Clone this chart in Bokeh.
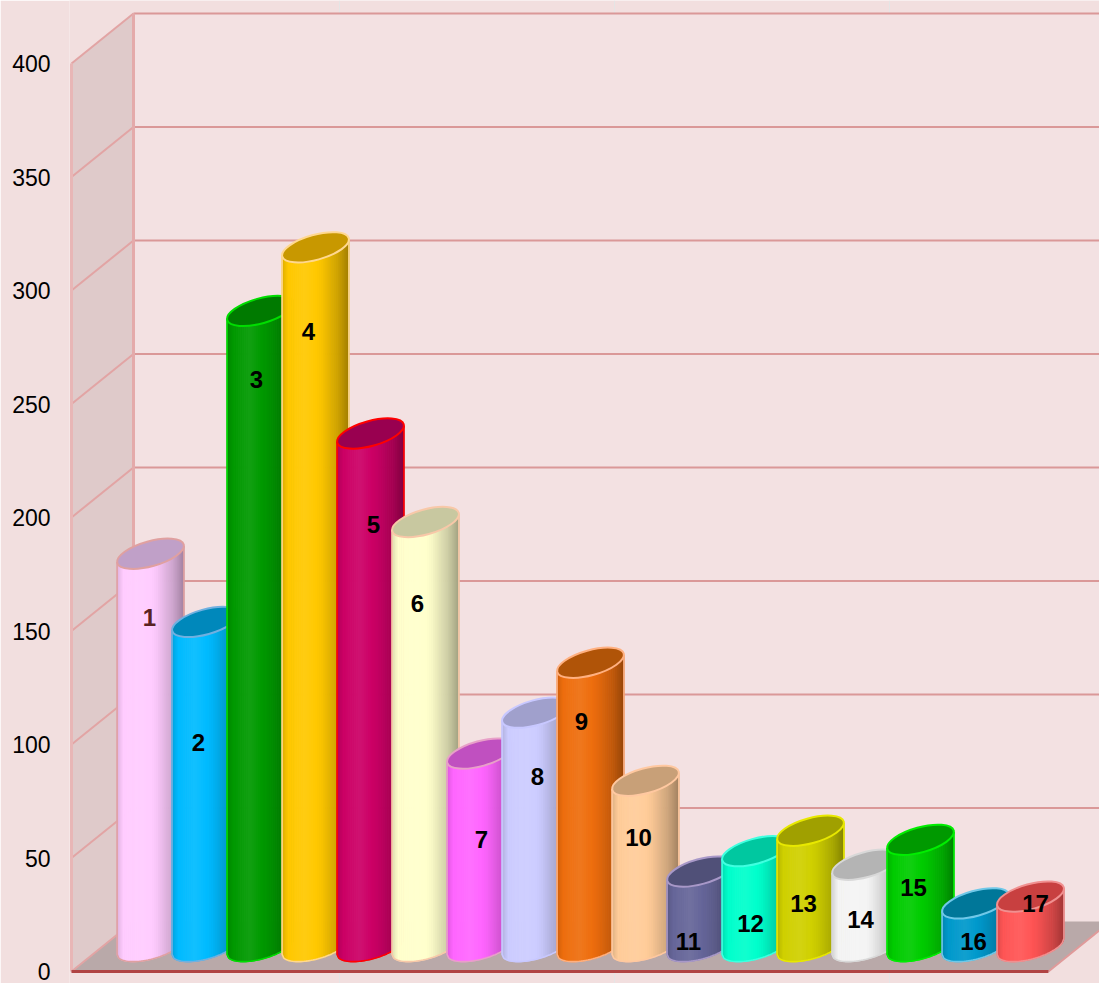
import numpy as np
from bokeh.plotting import figure
from bokeh.models import Range1d, FixedTicker, ColumnDataSource
from bokeh.embed import file_html
from bokeh.resources import INLINE
from bokeh.core.properties import value

# ---------------- data ----------------
categories = [str(i) for i in range(1, 18)]
values = [173, 143, 280, 308, 226, 187, 85, 103, 125, 73, 33, 42, 51, 36, 47, 19, 22]
y_ticks = [0, 50, 100, 150, 200, 250, 300, 350, 400]

body_colors = ["#ffccff", "#00bbff", "#009900", "#ffc800", "#cc0066", "#ffffcc",
               "#ff66ff", "#ccccff", "#ee6e0e", "#ffcc99", "#666699", "#00ffcc",
               "#d0d000", "#f4f4f4", "#00cc00", "#0099cc", "#ff5555"]
top_colors = ["#c0a0c8", "#0088bb", "#007a00", "#c89800", "#990050", "#c8c8a0",
              "#c050c0", "#a0a0cc", "#b05408", "#c8a078", "#505078", "#00c8a0",
              "#a0a000", "#b4b4b4", "#009900", "#007799", "#c84040"]
edge_colors = ["#e0a0a0", "#70b0e0", "#00dd00", "#ffd890", "#ff0000", "#f8c8a8",
               "#e8a0c8", "#c8c8ff", "#ffb080", "#ffc8a0", "#a898c8", "#40ffe0",
               "#e8e800", "#d8d8d8", "#00ee00", "#70c8e8", "#f09090"]
label_colors = ["#5a2222"] + ["#000000"] * 16
label_levels = [145, 90, 250, 271, 186, 151, 47, 75, 99, 48, 2, 10, 19, 12, 26, 2, 19]
label_shift_px = [-1, -7, -4, -7, 3, -8, 1, 2, -9, -7, -12, -5, -7, -5, -7, -2, 5]

# ---------------- geometry / style ----------------
SX = 55.0          # px per category unit
SY = 2.27          # px per value unit
W, H = 1099, 983
LEFT = 69
X_START = 5.0 / SX
X_END = X_START + (W - LEFT) / SX
Y_END = 971.0 / SY
Y_START = Y_END - H / SY
DX = 62.0 / SX     # depth offset (x)
DY = 50.0 / SY     # depth offset (y)
WALL_X = 7.0 / SX
N = len(values)
FLOOR_R = N + 0.89
TOP = y_ticks[-1]

p = figure(width=W, height=H, x_range=Range1d(X_START, X_END),
           y_range=Range1d(Y_START, Y_END), output_backend="svg",
           toolbar_location=None, x_axis_location=None, title=None,
           min_border_left=LEFT, min_border_right=0, min_border_top=0,
           min_border_bottom=0)
p.background_fill_color = "#f2dfdf"
p.border_fill_color = "#f2dfdf"
p.outline_line_color = None
p.ygrid.visible = False

ax = p.yaxis[0]
ax.ticker = FixedTicker(ticks=y_ticks)
ax.axis_line_color = None
ax.major_tick_line_color = None
ax.minor_tick_line_color = None
ax.major_tick_out = 0
ax.major_tick_in = 0
ax.major_label_standoff = 19
ax.major_label_text_font = "Liberation Sans"
ax.major_label_text_font_size = "23px"
ax.major_label_text_color = "#000000"

bx = WALL_X + DX
far = X_END + 2

# back wall
p.patch([bx, far, far, bx], [DY, DY, TOP + DY, TOP + DY],
        fill_color="#f3e1e2", line_color=None)
# left wall
p.patch([WALL_X, WALL_X, bx, bx], [0, TOP, TOP + DY, DY],
        fill_color="#dfcaca", line_color=None)
# back grid lines
gv = [t for t in y_ticks if t > 0]
p.segment(x0=[bx] * len(gv), y0=[t + DY for t in gv], x1=[far] * len(gv),
          y1=[t + DY for t in gv], line_color="#da9898", line_width=2)
# left wall diagonals
p.segment(x0=[WALL_X] * len(gv), y0=gv, x1=[bx] * len(gv),
          y1=[t + DY for t in gv], line_color="#e2a4a4", line_width=2)
# wall verticals
p.segment(x0=[bx], y0=[DY], x1=[bx], y1=[TOP + DY], line_color="#e4aaaa", line_width=3)
p.segment(x0=[WALL_X], y0=[0], x1=[WALL_X], y1=[TOP], line_color="#e8b6b6", line_width=3)
# floor
p.patch([WALL_X, FLOOR_R, FLOOR_R + DX, bx], [0, 0, DY, DY],
        fill_color="#b9a9a9", line_color=None)
p.segment(x0=[WALL_X], y0=[0], x1=[bx], y1=[DY], line_color="#e2a4a4", line_width=2)
p.segment(x0=[FLOOR_R], y0=[0], x1=[FLOOR_R + DX], y1=[DY], line_color="#e09a9a", line_width=2)
p.segment(x0=[WALL_X], y0=[0], x1=[FLOOR_R], y1=[0], line_color="#b04444", line_width=3)

# ---------------- cylinders ----------------
A_PX, B_PX, TH = 34.5, 12.5, 0.27
c, s = np.cos(TH), np.sin(TH)
HW = np.sqrt(A_PX**2 * c**2 + B_PX**2 * s**2)
YOFF = (A_PX**2 - B_PX**2) * s * c / HW


def v_low(u):
    qa = s**2 / A_PX**2 + c**2 / B_PX**2
    qb = 2 * u * c * s * (1 / A_PX**2 - 1 / B_PX**2)
    qc = u**2 * (c**2 / A_PX**2 + s**2 / B_PX**2) - 1
    disc = np.maximum(qb**2 - 4 * qa * qc, 0)
    return (-qb - np.sqrt(disc)) / (2 * qa)


def chord(u):
    return u * YOFF / HW


def shade(hexc, f):
    r, g, b = (int(hexc[i:i + 2], 16) for i in (1, 3, 5))
    if f <= 1:
        r, g, b = r * f, g * f, b * f
    else:
        k = f - 1
        r, g, b = r + (255 - r) * k, g + (255 - g) * k, b + (255 - b) * k
    return "#%02x%02x%02x" % tuple(int(max(0, min(255, round(x)))) for x in (r, g, b))


prof_t = [0.0, 0.1, 0.35, 0.6, 0.85, 1.0]
prof_f = [0.86, 1.0, 1.07, 0.97, 0.8, 0.64]
NS = 34
edges_u = np.linspace(-HW, HW, NS + 1)

for i in range(N):
    cx = (i + 1) + DX / 2
    cb = DY / 2
    ct = values[i] + DY / 2
    xs, ys, cols = [], [], []
    for k in range(NS):
        u0, u1 = edges_u[k], edges_u[k + 1]
        uu = np.linspace(u1, u0, 4)
        px = [u0, u1] + list(uu)
        py_top = [ct + chord(u0) / SY, ct + chord(u1) / SY]
        py_bot = [cb + v / SY for v in v_low(uu)]
        xs.append([cx + q / SX for q in px])
        ys.append(py_top + py_bot)
        t = ((u0 + u1) / 2 + HW) / (2 * HW)
        cols.append(shade(body_colors[i], float(np.interp(t, prof_t, prof_f))))
    p.patches(xs=xs, ys=ys, fill_color=cols, line_color=cols, line_width=1)
    # outline: left side, lower arc, right side
    ua = np.linspace(-HW, HW, 40)
    ox = [cx - HW / SX] + [cx + q / SX for q in ua] + [cx + HW / SX]
    oy = ([ct + chord(-HW) / SY] + [cb + v / SY for v in v_low(ua)]
          + [ct + chord(HW) / SY])
    p.line(ox, oy, line_color=edge_colors[i], line_width=1.6)
    # top cap
    p.ellipse(x=[cx], y=[ct], width=2 * A_PX, height=2 * B_PX, angle=TH,
              width_units="screen", height_units="screen",
              fill_color=top_colors[i], line_color=edge_colors[i], line_width=2)

# labels
lab = ColumnDataSource(dict(
    x=[(i + 1) + DX / 2 + label_shift_px[i] / SX for i in range(N)],
    y=[label_levels[i] + DY / 2 for i in range(N)],
    text=categories, color=label_colors))
p.text(x="x", y="y", text="text", source=lab, text_align="center",
       text_baseline="middle", text_font=value("Liberation Sans"),
       text_font_style="bold", text_font_size="24px", text_color="color")

open("out.html", "w").write(file_html(p, INLINE))
